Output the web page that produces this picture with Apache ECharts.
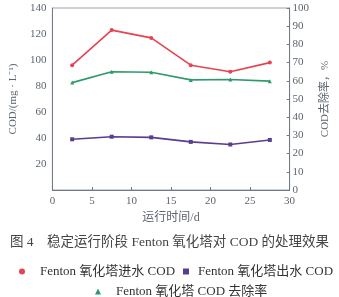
<!DOCTYPE html>
<html><head><meta charset="utf-8">
<script src="https://cdn.jsdelivr.net/npm/echarts@6/dist/echarts.min.js"></script>
<style>html,body{margin:0;padding:0;background:#fff}#c{width:339px;height:297px}</style>
</head><body><div id="c"></div>
<script>
const days = [2.5, 7.5, 12.5, 17.5, 22.5, 27.5];
const codIn = [96, 123, 117, 96, 91, 98];
const codOut = [39, 41, 40.5, 37, 35, 38.5];
const removal = [59, 65, 64.7, 60.5, 60.7, 59.8];
const xTicks = [0, 5, 10, 15, 20, 25, 30];
const nameIn = 'Fenton 氧化塔进水 COD';
const nameOut = 'Fenton 氧化塔出水 COD';
const nameRem = 'Fenton 氧化塔 COD 去除率';
const caption = '图 4    稳定运行阶段 Fenton 氧化塔对 COD 的处理效果';

const FONT = '"Liberation Serif", "Noto Sans CJK SC", serif';
const AX = '#6f7a86';
const TXT = '#5d6570';
const RED = '#e6424f', PUR = '#5a3d8e', GRN = '#2e9a6b';

const chart = echarts.init(document.getElementById('c'));
const pair = a => days.map((d, i) => [d, a[i]]);
chart.setOption({
  animation: false,
  textStyle: { fontFamily: FONT },
  grid: { left: 42, right: 40, top: 8, bottom: 107, show: true, borderColor: '#9aa3ad', borderWidth: 1, backgroundColor: 'transparent' },
  xAxis: {
    type: 'value', min: 0, max: 30, interval: 5,
    name: '运行时间/d', nameLocation: 'middle', nameGap: 19,
    nameTextStyle: { fontFamily: FONT, fontSize: 12, color: TXT },
    axisLine: { lineStyle: { color: AX, width: 1 } },
    axisTick: { inside: true, length: 3, lineStyle: { color: AX } },
    axisLabel: { fontFamily: FONT, fontSize: 11, color: TXT, margin: 6 },
    splitLine: { show: false }
  },
  yAxis: [{
    type: 'value', min: 0, max: 140, interval: 20, position: 'left',
    name: 'COD/(mg · L⁻¹)', nameLocation: 'middle', nameGap: 30, nameRotate: 90,
    nameTextStyle: { fontFamily: FONT, fontSize: 11, color: TXT },
    axisLine: { show: true, lineStyle: { color: AX, width: 1 } },
    axisTick: { show: false },
    axisLabel: { fontFamily: FONT, fontSize: 11, color: TXT, margin: 6, formatter: v => v === 0 ? '' : v },
    splitLine: { show: false }
  }, {
    type: 'value', min: 0, max: 100, interval: 10, position: 'right',
    name: 'COD去除率，%', nameLocation: 'middle', nameGap: 27, nameRotate: 90,
    nameTextStyle: { fontFamily: FONT, fontSize: 11, color: TXT },
    axisLine: { show: true, lineStyle: { color: AX, width: 1 } },
    axisTick: { show: true, inside: true, length: 3, lineStyle: { color: AX } },
    axisLabel: { fontFamily: FONT, fontSize: 11, color: TXT, margin: 3 },
    splitLine: { show: false }
  }],
  legend: [
    { data: [nameIn], left: 14, top: 260, icon: 'circle', itemWidth: 6, itemHeight: 6,
      textStyle: { fontFamily: FONT, fontSize: 13, color: '#333', padding: [0, 0, 0, 10] } },
    { data: [nameOut], left: 178, top: 260, icon: 'rect', itemWidth: 6, itemHeight: 6,
      textStyle: { fontFamily: FONT, fontSize: 13, color: '#333', padding: [0, 0, 0, 4] } },
    { data: [nameRem], left: 90, top: 280, icon: 'triangle', itemWidth: 6, itemHeight: 6,
      textStyle: { fontFamily: FONT, fontSize: 13, color: '#333', padding: [0, 0, 0, 10] } }
  ],
  title: { text: caption, left: 'center', top: 231,
    textStyle: { fontFamily: FONT, fontSize: 13.5, fontWeight: 'normal', color: '#444' } },
  series: [
    { name: nameIn, type: 'line', yAxisIndex: 0, data: pair(codIn), symbol: 'circle', symbolSize: 4,
      lineStyle: { color: RED, width: 1.6 }, itemStyle: { color: RED } },
    { name: nameOut, type: 'line', yAxisIndex: 0, data: pair(codOut), symbol: 'rect', symbolSize: 4,
      lineStyle: { color: PUR, width: 1.6 }, itemStyle: { color: PUR } },
    { name: nameRem, type: 'line', yAxisIndex: 1, data: pair(removal), symbol: 'triangle', symbolSize: 4,
      lineStyle: { color: GRN, width: 1.6 }, itemStyle: { color: GRN } }
  ]
});
</script></body></html>
